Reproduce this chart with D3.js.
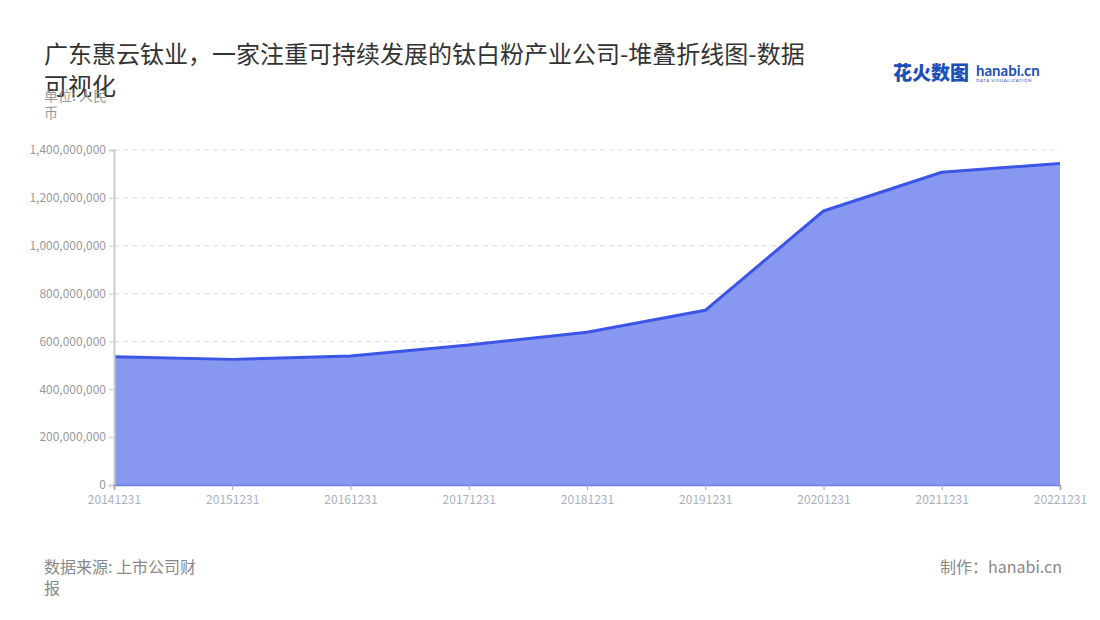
<!DOCTYPE html>
<html><head><meta charset="utf-8">
<script src="https://cdn.jsdelivr.net/npm/d3@7"></script>
<style>
body{margin:0;background:#fff;font-family:"Noto Sans CJK SC","Noto Sans",sans-serif;}
</style></head>
<body><svg id="c" width="1100" height="620"></svg>
<script>
const categories = ["20141231","20151231","20161231","20171231","20181231","20191231","20201231","20211231","20221231"];
const values = [536000000,525000000,539000000,585000000,638000000,730000000,1145000000,1307000000,1344000000];
const yTicks = [0,200000000,400000000,600000000,800000000,1000000000,1200000000,1400000000];
const titleLines = ["广东惠云钛业，一家注重可持续发展的钛白粉产业公司-堆叠折线图-数据","可视化"];
const unitLines = ["单位: 人民","币"];
const sourceLines = ["数据来源: 上市公司财","报"];
const credit = "制作：hanabi.cn";

const svg = d3.select("#c");
const m = {left:114, right:1060, top:150, bottom:485};
const x = d3.scalePoint().domain(categories).range([m.left, m.right]);
const y = d3.scaleLinear().domain([0,1400000000]).range([m.bottom, m.top]);
const font = '"Noto Sans CJK SC","Noto Sans",sans-serif';

// grid
svg.append("g").selectAll("line").data(yTicks.filter(d=>d>0)).join("line")
  .attr("x1", m.left).attr("x2", m.right).attr("y1", d=>y(d)).attr("y2", d=>y(d))
  .attr("stroke","#dcdcdc").attr("stroke-dasharray","5,4").attr("stroke-width",1);

// area
const data = categories.map((c,i)=>({c, v:values[i]}));
svg.append("path").datum(data)
  .attr("d", d3.area().x(d=>x(d.c)).y0(y(0)).y1(d=>y(d.v)))
  .attr("fill","#8898f0");
svg.append("path").datum(data)
  .attr("d", d3.line().x(d=>x(d.c)).y(d=>y(d.v)))
  .attr("fill","none").attr("stroke","#3b55e6").attr("stroke-width",3).attr("stroke-linejoin","round");

// y axis
const ya = svg.append("g").attr("transform",`translate(${m.left},0)`)
  .call(d3.axisLeft(y).tickValues(yTicks).tickFormat(d3.format(",")).tickSize(5).tickPadding(3));
ya.select(".domain").attr("stroke","#ccc").attr("stroke-width",2);
ya.selectAll(".tick line").attr("stroke","#ccc");
ya.selectAll("text").attr("fill","#999").attr("font-size",12).attr("font-family",font);

// x axis
const xa = svg.append("g").attr("transform",`translate(0,${m.bottom})`)
  .call(d3.axisBottom(x).tickSize(5).tickPadding(5));
xa.select(".domain").attr("stroke","#6e7ee6").attr("stroke-width",1.5);
xa.selectAll(".tick line").attr("stroke","#aaa");
xa.selectAll("text").attr("fill","#aab0c0").attr("font-size",12).attr("font-family",font);

// title
svg.append("text").attr("font-size",24).attr("fill","#333").attr("font-family",font)
  .selectAll("tspan").data(titleLines).join("tspan")
  .attr("x",44).attr("y",(d,i)=>63+i*32).text(d=>d);
svg.append("text").attr("font-size",14).attr("fill","#999").attr("font-family",font)
  .selectAll("tspan").data(unitLines).join("tspan")
  .attr("x",44).attr("y",(d,i)=>101+i*17).text(d=>d);

// footer
svg.append("text").attr("font-size",16).attr("fill","#888").attr("font-family",font)
  .selectAll("tspan").data(sourceLines).join("tspan")
  .attr("x",44).attr("y",(d,i)=>573+i*21).text(d=>d);
svg.append("text").attr("x",1062).attr("y",573).attr("text-anchor","end")
  .attr("font-size",16).attr("fill","#888").attr("font-family",font).text(credit);

// logo
const lg = svg.append("g");
lg.append("text").attr("x",893).attr("y",80).attr("font-size",19).attr("font-weight",900)
  .attr("fill","#1d4fb8").attr("font-family",font).text("花火数图");
lg.append("text").attr("x",976).attr("y",76).attr("font-size",15).attr("font-weight",700)
  .attr("fill","#1d4fb8").attr("font-family","Lato,sans-serif").text("hanabi.cn");
lg.append("text").attr("x",976).attr("y",82).attr("font-size",4.5).attr("letter-spacing",0.6)
  .attr("fill","#1d4fb8").attr("font-family","Lato,sans-serif").text("DATA VISUALIZATION");
</script>
</body></html>
